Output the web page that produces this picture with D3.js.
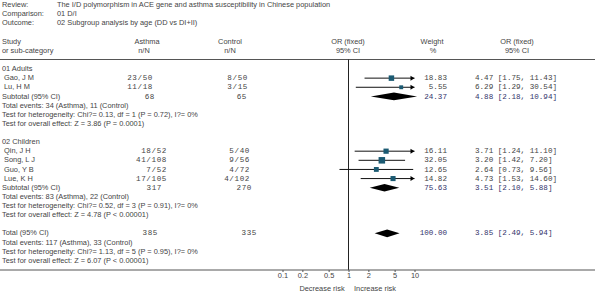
<!DOCTYPE html>
<html><head><meta charset="utf-8">
<script src="https://cdn.jsdelivr.net/npm/d3@7"></script>
<style>body{margin:0;background:#fff}svg{display:block}</style>
</head><body>
<svg id="c" width="600" height="295"></svg>
<script>
// ---- data ----
const metaLabels = ["Review:", "Comparison:", "Outcome:"];
const metaValues = ["The I/D polymorphism in ACE gene and asthma susceptibility in Chinese population", "01 D/I", "02 Subgroup analysis by age (DD vs DI+II)"];
const groupNames = ["01 Adults", "02 Children"];
const studyNames = [["Gao, J M", "Lu, H M"], ["Qin, J H", "Song, L J", "Guo, Y B", "Lue, K H"]];
const asthmaNN = [["23/50", "11/18"], ["18/52", "41/108", "7/52", "17/105"]];
const controlNN = [["8/50", "3/15"], ["5/40", "9/56", "4/72", "4/102"]];
const weights = [[18.83, 5.55], [16.11, 32.05, 12.65, 14.82]];
const orValues = [[4.47, 6.29], [3.71, 3.20, 2.64, 4.73]];
const ciLow = [[1.75, 1.29], [1.24, 1.42, 0.73, 1.53]];
const ciHigh = [[11.43, 30.54], [11.10, 7.20, 9.56, 14.60]];
const subAsthmaN = [68, 317];
const subControlN = [65, 270];
const subWeight = [24.37, 75.63];
const subOR = [4.88, 3.51];
const subLow = [2.18, 2.10];
const subHigh = [10.94, 5.88];
const subEvents = ["Total events: 34 (Asthma), 11 (Control)", "Total events: 83 (Asthma), 22 (Control)"];
const subHetero = ["Test for heterogeneity: Chi?= 0.13, df = 1 (P = 0.72), I?= 0%", "Test for heterogeneity: Chi?= 0.52, df = 3 (P = 0.91), I?= 0%"];
const subEffect = ["Test for overall effect: Z = 3.86 (P = 0.0001)", "Test for overall effect: Z = 4.78 (P < 0.00001)"];
const totalAsthmaN = 385, totalControlN = 335, totalWeight = 100.00;
const totalOR = 3.85, totalLow = 2.49, totalHigh = 5.94;
const totalLines = ["Total events: 117 (Asthma), 33 (Control)", "Test for heterogeneity: Chi?= 1.13, df = 5 (P = 0.95), I?= 0%", "Test for overall effect: Z = 6.07 (P < 0.00001)"];
const tickValues = [0.1, 0.2, 0.5, 1, 2, 5, 10];
const tickLabels = ["0.1", "0.2", "0.5", "1", "2", "5", "10"];
const axisLeftLabel = "Decrease risk", axisRightLabel = "Increase risk";

// ---- layout ----
const svg = d3.select("#c");
const sans = "Arial, 'Liberation Sans', sans-serif";
const mono = "'Courier New', 'Liberation Mono', monospace";
const txt = "#444", navy = "#33336b", sq = "#1b5a72";
const fs = 7.4, mfs = 7.6;
const rowY = i => 4.6 + i * 9.13;
const x = d3.scaleLog().domain([0.1, 10]).range([282.5, 414.5]);
const axisY = 270, headLineY = 59.5;
const fmt2 = d3.format(".2f");

function T(xp, yp, s, o = {}) {
  return svg.append("text").attr("x", xp).attr("y", yp + 2.6)
    .attr("font-family", o.mono ? mono : sans).attr("font-size", o.mono ? mfs : fs)
    .attr("fill", o.fill || txt).attr("text-anchor", o.anchor || "start")
    .attr("letter-spacing", o.ls || 0).text(s);
}

metaLabels.forEach((l, i) => { T(2, rowY(i), l); T(57, rowY(i), metaValues[i]); });
T(2, rowY(4), "Study"); T(2, rowY(5), "or sub-category");
T(147, rowY(4), "Asthma", {anchor: "middle"}); T(144, rowY(5), "n/N", {anchor: "middle"});
T(230, rowY(4), "Control", {anchor: "middle"}); T(230, rowY(5), "n/N", {anchor: "middle"});
T(348, rowY(4), "OR (fixed)", {anchor: "middle"}); T(348, rowY(5), "95% CI", {anchor: "middle"});
T(432, rowY(4), "Weight", {anchor: "middle"}); T(433, rowY(5), "%", {anchor: "middle"});
T(517, rowY(4), "OR (fixed)", {anchor: "middle"}); T(517, rowY(5), "95% CI", {anchor: "middle"});

svg.append("line").attr("x1", 0).attr("x2", 595).attr("y1", headLineY).attr("y2", headLineY).attr("stroke", "#555").attr("stroke-width", 1);
svg.append("line").attr("x1", x(1)).attr("x2", x(1)).attr("y1", headLineY).attr("y2", axisY).attr("stroke", "#222").attr("stroke-width", 1);

const asthmaRight = [153, 167], controlRight = [248, 250], subAR = [155, 162], subCR = [247, 252];
const weightRight = 447, ciLeft = 475;

function ciText(o, l, h) { return fmt2(o) + " [" + fmt2(l) + ", " + fmt2(h) + "]"; }

function diamond(y, o, l, h) {
  const hh = 3.8;
  svg.append("path").attr("d", `M${x(l)},${y}L${x(o)},${y - hh}L${x(h)},${y}L${x(o)},${y + hh}Z`).attr("fill", "#000");
}

let r = 7;
groupNames.forEach((g, gi) => {
  T(2, rowY(r), g); r++;
  studyNames[gi].forEach((s, si) => {
    const y = rowY(r);
    T(4, y, s);
    T(asthmaRight[gi], y, asthmaNN[gi][si], {mono: true, anchor: "end", ls: 0.6});
    T(controlRight[gi], y, controlNN[gi][si], {mono: true, anchor: "end", ls: 0.6});
    T(weightRight, y, fmt2(weights[gi][si]), {mono: true, anchor: "end"});
    T(ciLeft, y, ciText(orValues[gi][si], ciLow[gi][si], ciHigh[gi][si]), {mono: true});
    const lo = Math.max(ciLow[gi][si], 0.1), hiClip = Math.min(ciHigh[gi][si], 10);
    const ly = y + 0.5;
    svg.append("line").attr("x1", x(lo)).attr("x2", x(hiClip)).attr("y1", ly).attr("y2", ly).attr("stroke", "#111").attr("stroke-width", 1);
    if (ciHigh[gi][si] > 10) {
      const ax = x(10);
      svg.append("path").attr("d", `M${ax},${ly}L${ax - 4},${ly - 2.5}L${ax - 4},${ly + 2.5}Z`).attr("fill", "#000");
    }
    const sz = 2 + Math.sqrt(weights[gi][si]) * 0.8;
    svg.append("rect").attr("x", x(orValues[gi][si]) - sz / 2).attr("y", ly - sz / 2).attr("width", sz).attr("height", sz).attr("fill", sq);
    r++;
  });
  const y = rowY(r);
  T(2, y, "Subtotal (95% CI)");
  T(subAR[gi], y, subAsthmaN[gi], {mono: true, anchor: "end", ls: 0.6});
  T(subCR[gi], y, subControlN[gi], {mono: true, anchor: "end", ls: 0.6});
  T(weightRight, y, fmt2(subWeight[gi]), {mono: true, anchor: "end", fill: navy});
  T(ciLeft, y, ciText(subOR[gi], subLow[gi], subHigh[gi]), {mono: true, fill: navy});
  diamond(y + 0.5, subOR[gi], subLow[gi], subHigh[gi]);
  r++;
  T(2, rowY(r++), subEvents[gi]);
  T(2, rowY(r++), subHetero[gi]);
  T(2, rowY(r++), subEffect[gi]);
  r++;
});
{
  const y = rowY(r);
  T(2, y, "Total (95% CI)");
  T(158, y, totalAsthmaN, {mono: true, anchor: "end", ls: 0.6});
  T(257, y, totalControlN, {mono: true, anchor: "end", ls: 0.6});
  T(weightRight, y, fmt2(totalWeight), {mono: true, anchor: "end", fill: navy});
  T(ciLeft, y, ciText(totalOR, totalLow, totalHigh), {mono: true, fill: navy});
  diamond(y + 0.5, totalOR, totalLow, totalHigh);
  r++;
  totalLines.forEach(l => T(2, rowY(r++), l));
}

// axis
svg.append("line").attr("x1", 0).attr("x2", 595).attr("y1", axisY).attr("y2", axisY).attr("stroke", "#555").attr("stroke-width", 1);
const ax = d3.axisBottom(x).tickValues(tickValues).tickFormat((d, i) => tickLabels[i]).tickSize(2).tickSizeOuter(0);
const g = svg.append("g").attr("transform", `translate(0,${axisY})`).call(ax);
g.select(".domain").remove();
g.selectAll(".tick line").attr("stroke", "#555");
g.selectAll(".tick text").attr("font-family", sans).attr("font-size", fs).attr("fill", txt).attr("dy", "0.9em").attr("y", 1.5);
T(322, 288.5, axisLeftLabel, {anchor: "middle"});
T(375, 288.5, axisRightLabel, {anchor: "middle"});
</script>
</body></html>
